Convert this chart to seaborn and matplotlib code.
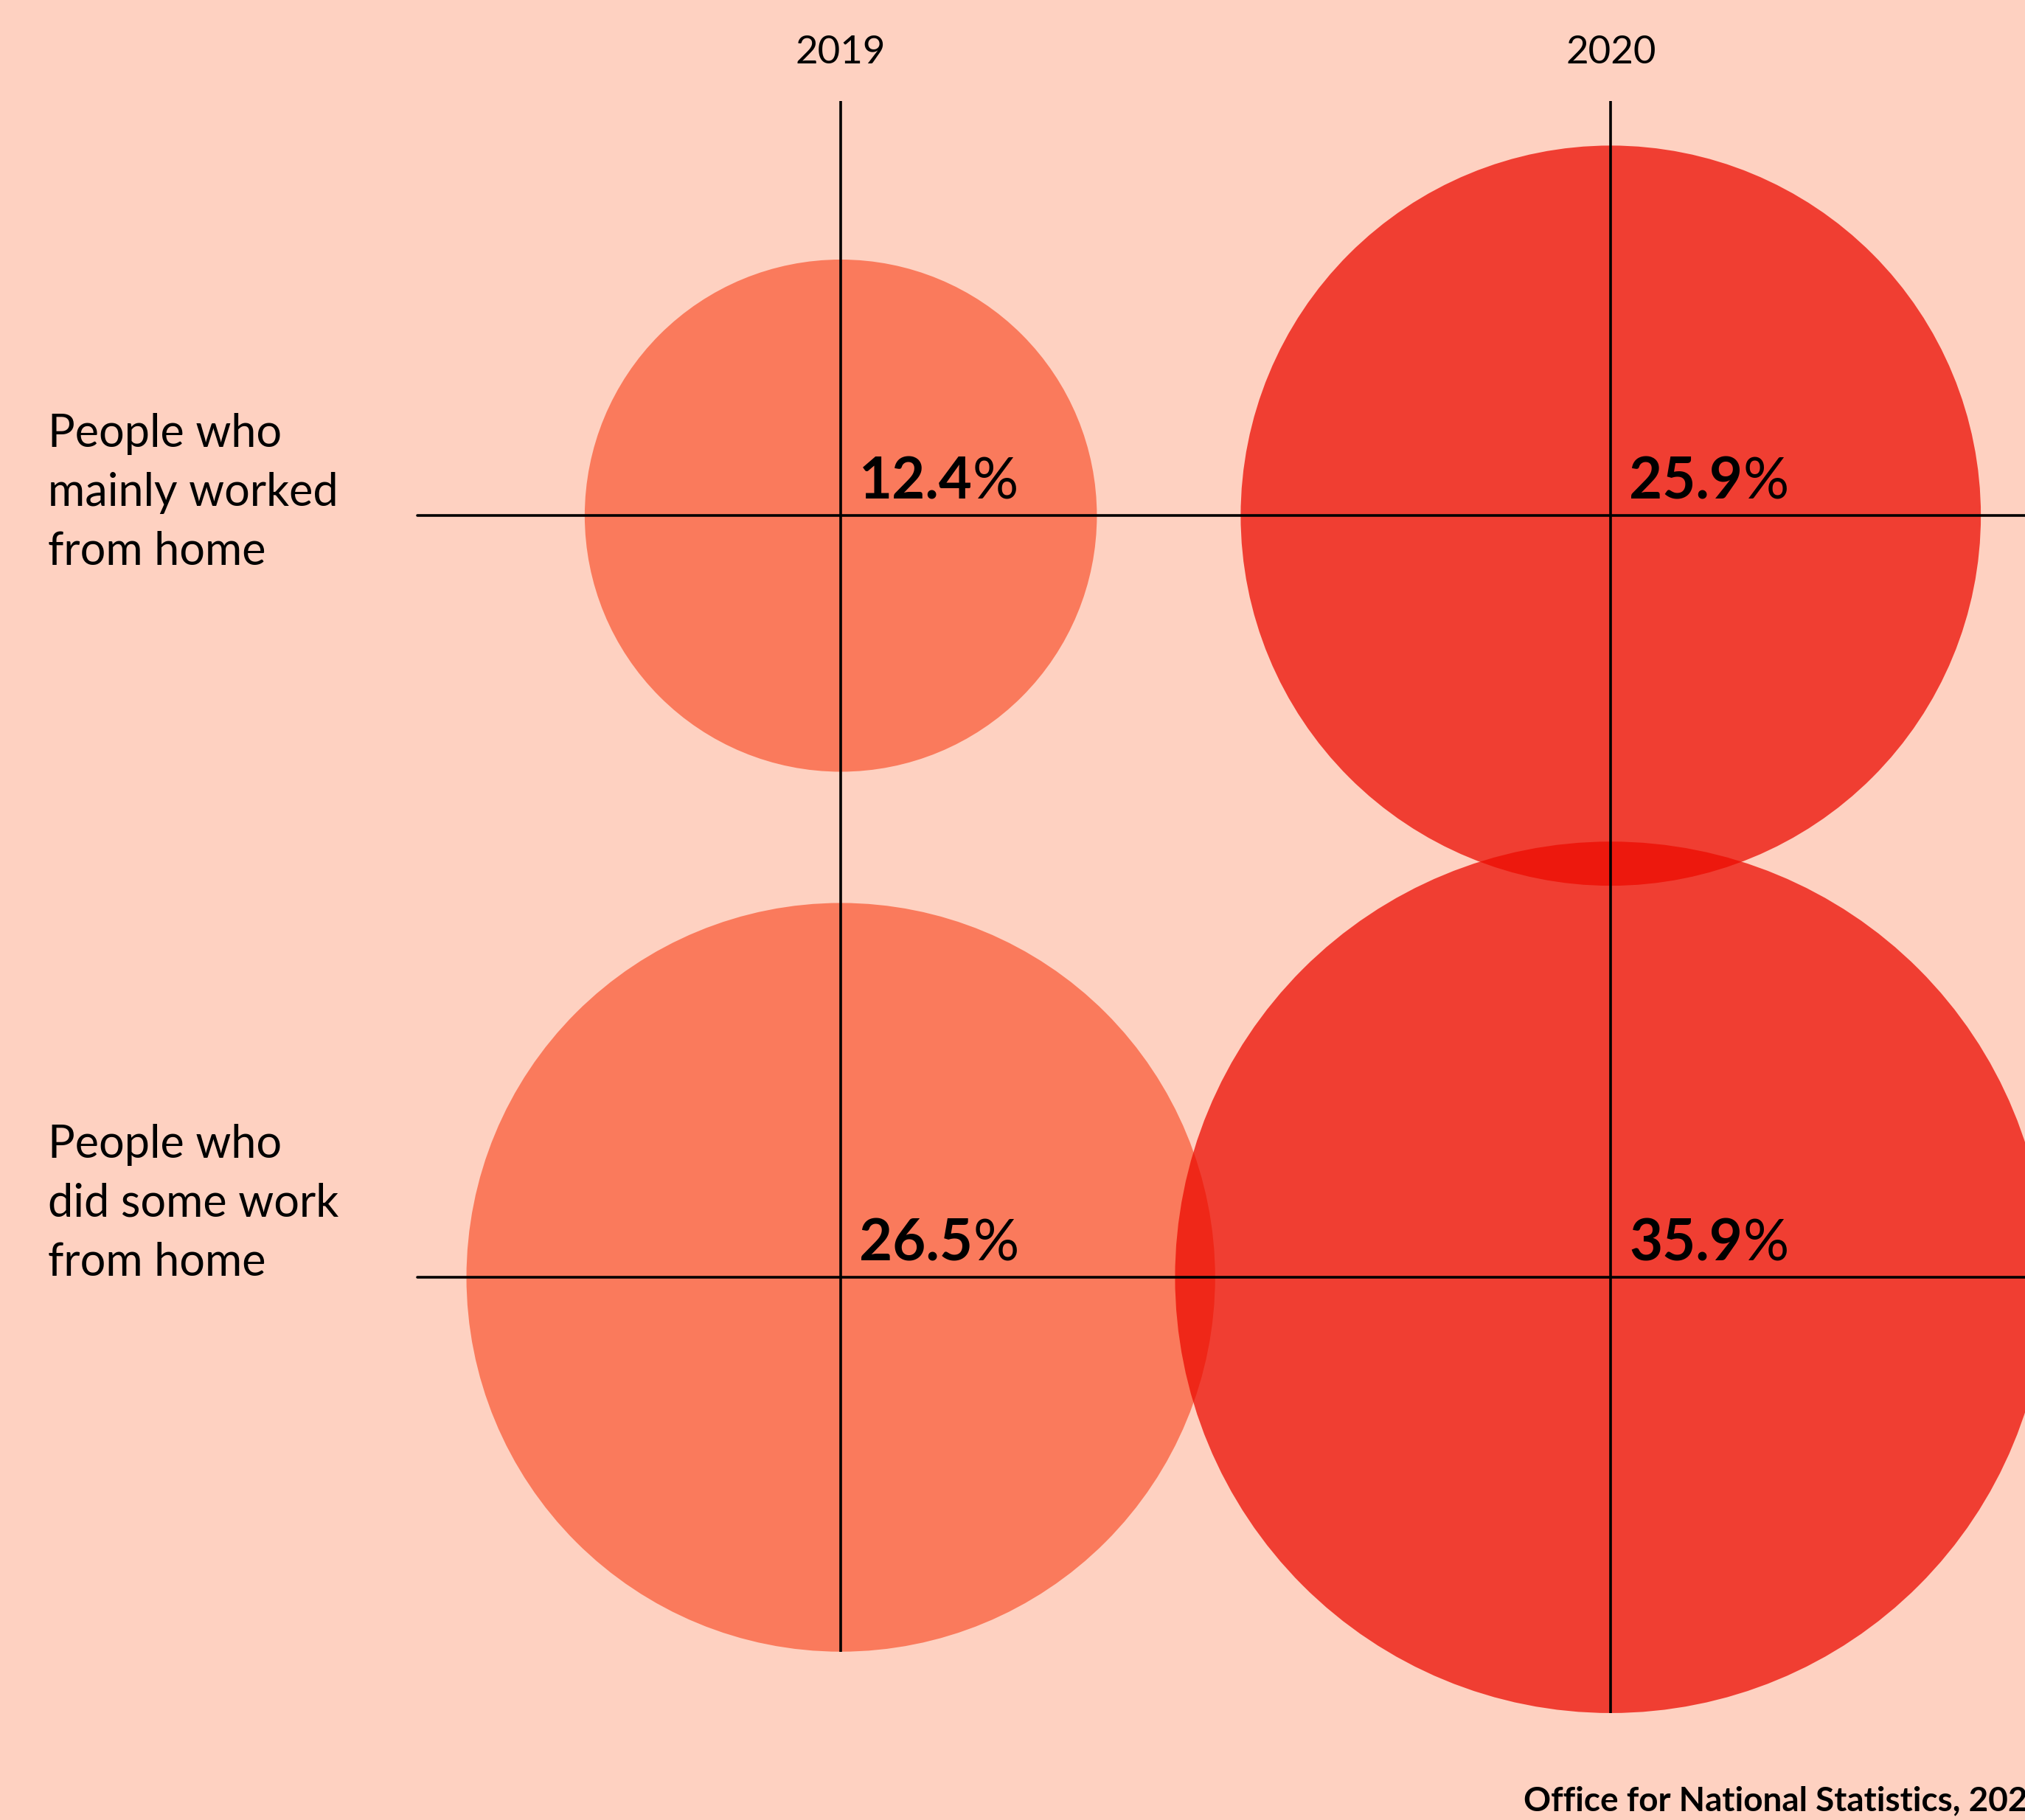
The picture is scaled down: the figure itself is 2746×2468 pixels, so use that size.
"""Bubble grid: share of people working from home, 2019 vs 2020 (ONS)."""
import numpy as np
import pandas as pd
import matplotlib
matplotlib.use("Agg")
import matplotlib.pyplot as plt
import matplotlib.transforms as mtransforms
import seaborn as sns

# data
years = ["2019", "2020"]
groups = ["People who\nmainly worked\nfrom home", "People who\ndid some work\nfrom home"]
share_2019 = [12.4, 26.5]
share_2020 = [25.9, 35.9]
source = "Office for National Statistics, 2020"

# style
BG = "#FED1C1"
COL_2019 = "#FA7A5C"
COL_2020 = "#EC0B00"
ALPHA_2020 = 0.74
DPI = 200
W, H = 2746, 2468
AREA_PER_PCT = 5041        # marker area (pt^2) per percentage point -> area-true bubbles
FONT = ["Lato", "DejaVu Sans"]

sns.set_theme(style="white")
plt.rcParams["font.family"] = FONT
plt.rcParams["text.color"] = "black"

df = pd.DataFrame({
    "group": groups * 2,
    "year": [years[0]] * 2 + [years[1]] * 2,
    "share": share_2019 + share_2020,
})

fig = plt.figure(figsize=(W / DPI, H / DPI), dpi=DPI, facecolor=BG)
ax = fig.add_axes([0, 0, 1, 1])
ax.set_facecolor(BG)

size_norm = (0, df["share"].max())
size_range = (0, AREA_PER_PCT * df["share"].max())
for yr, col, a in [(years[0], COL_2019, 1.0), (years[1], COL_2020, ALPHA_2020)]:
    sns.scatterplot(data=df[df["year"] == yr], x="year", y="group", size="share",
                    sizes=size_range, size_norm=size_norm, color=col, alpha=a,
                    linewidth=0, legend=False, ax=ax, zorder=2)

# place the 2x2 grid on the canvas (categorical positions 0,1 on both axes)
ax.set_xlim(-1.092, 1.538)
ax.set_ylim(1.7125, -0.677)
ax.set_axis_off()

fig.canvas.draw()
to_px = ax.transData
from_px = ax.transData.inverted()

# guide lines: verticals run from the top down to the bottom of the lower bubble
for i, yr in enumerate(years):
    low = df[(df["year"] == yr) & (df["group"] == groups[-1])]["share"].iloc[0]
    r_px = np.sqrt(AREA_PER_PCT * low) / 2 * DPI / 72
    cx, cy = to_px.transform((i, len(groups) - 1))
    _, y_bot = from_px.transform((cx, cy - r_px))
    ax.plot([i, i], [-0.544, y_bot], color="black", lw=1.3, zorder=3, solid_capstyle="butt")
    ax.text(i, 0.971, yr, transform=mtransforms.blended_transform_factory(ax.transData, ax.transAxes),
            ha="center", va="center", fontsize=19, color="black")

for j in range(len(groups)):
    ax.axhline(j, xmin=0.206, xmax=1, color="black", lw=1.3, zorder=3)

# row labels on the left
label_offsets = [11, 36]
lab_tr = mtransforms.blended_transform_factory(ax.transAxes, ax.transData)
for j, g in enumerate(groups):
    ax.annotate(g, xy=(0.0237, j), xycoords=lab_tr, xytext=(0, label_offsets[j]),
                textcoords="offset points", ha="left", va="center",
                fontsize=22, linespacing=1.5, color="black")

# value labels: bold number + regular percent sign
for i, yr in enumerate(years):
    vals = share_2019 if i == 0 else share_2020
    for j, v in enumerate(vals):
        num = ax.annotate(f"{v:.1f}", xy=(i, j), xytext=(9, 3), textcoords="offset points",
                          ha="left", va="bottom", fontsize=28, fontweight="bold",
                          color="black", zorder=4)
        ax.annotate("%", xy=(1, 0), xycoords=num, ha="left", va="bottom",
                    fontsize=28, color="black", zorder=4)

fig.text(2066 / W, 1 - 2455 / H, source, ha="left", va="baseline",
         fontsize=16.5, fontweight="bold", color="black")

fig.savefig("out.png", dpi=DPI, facecolor=BG)
